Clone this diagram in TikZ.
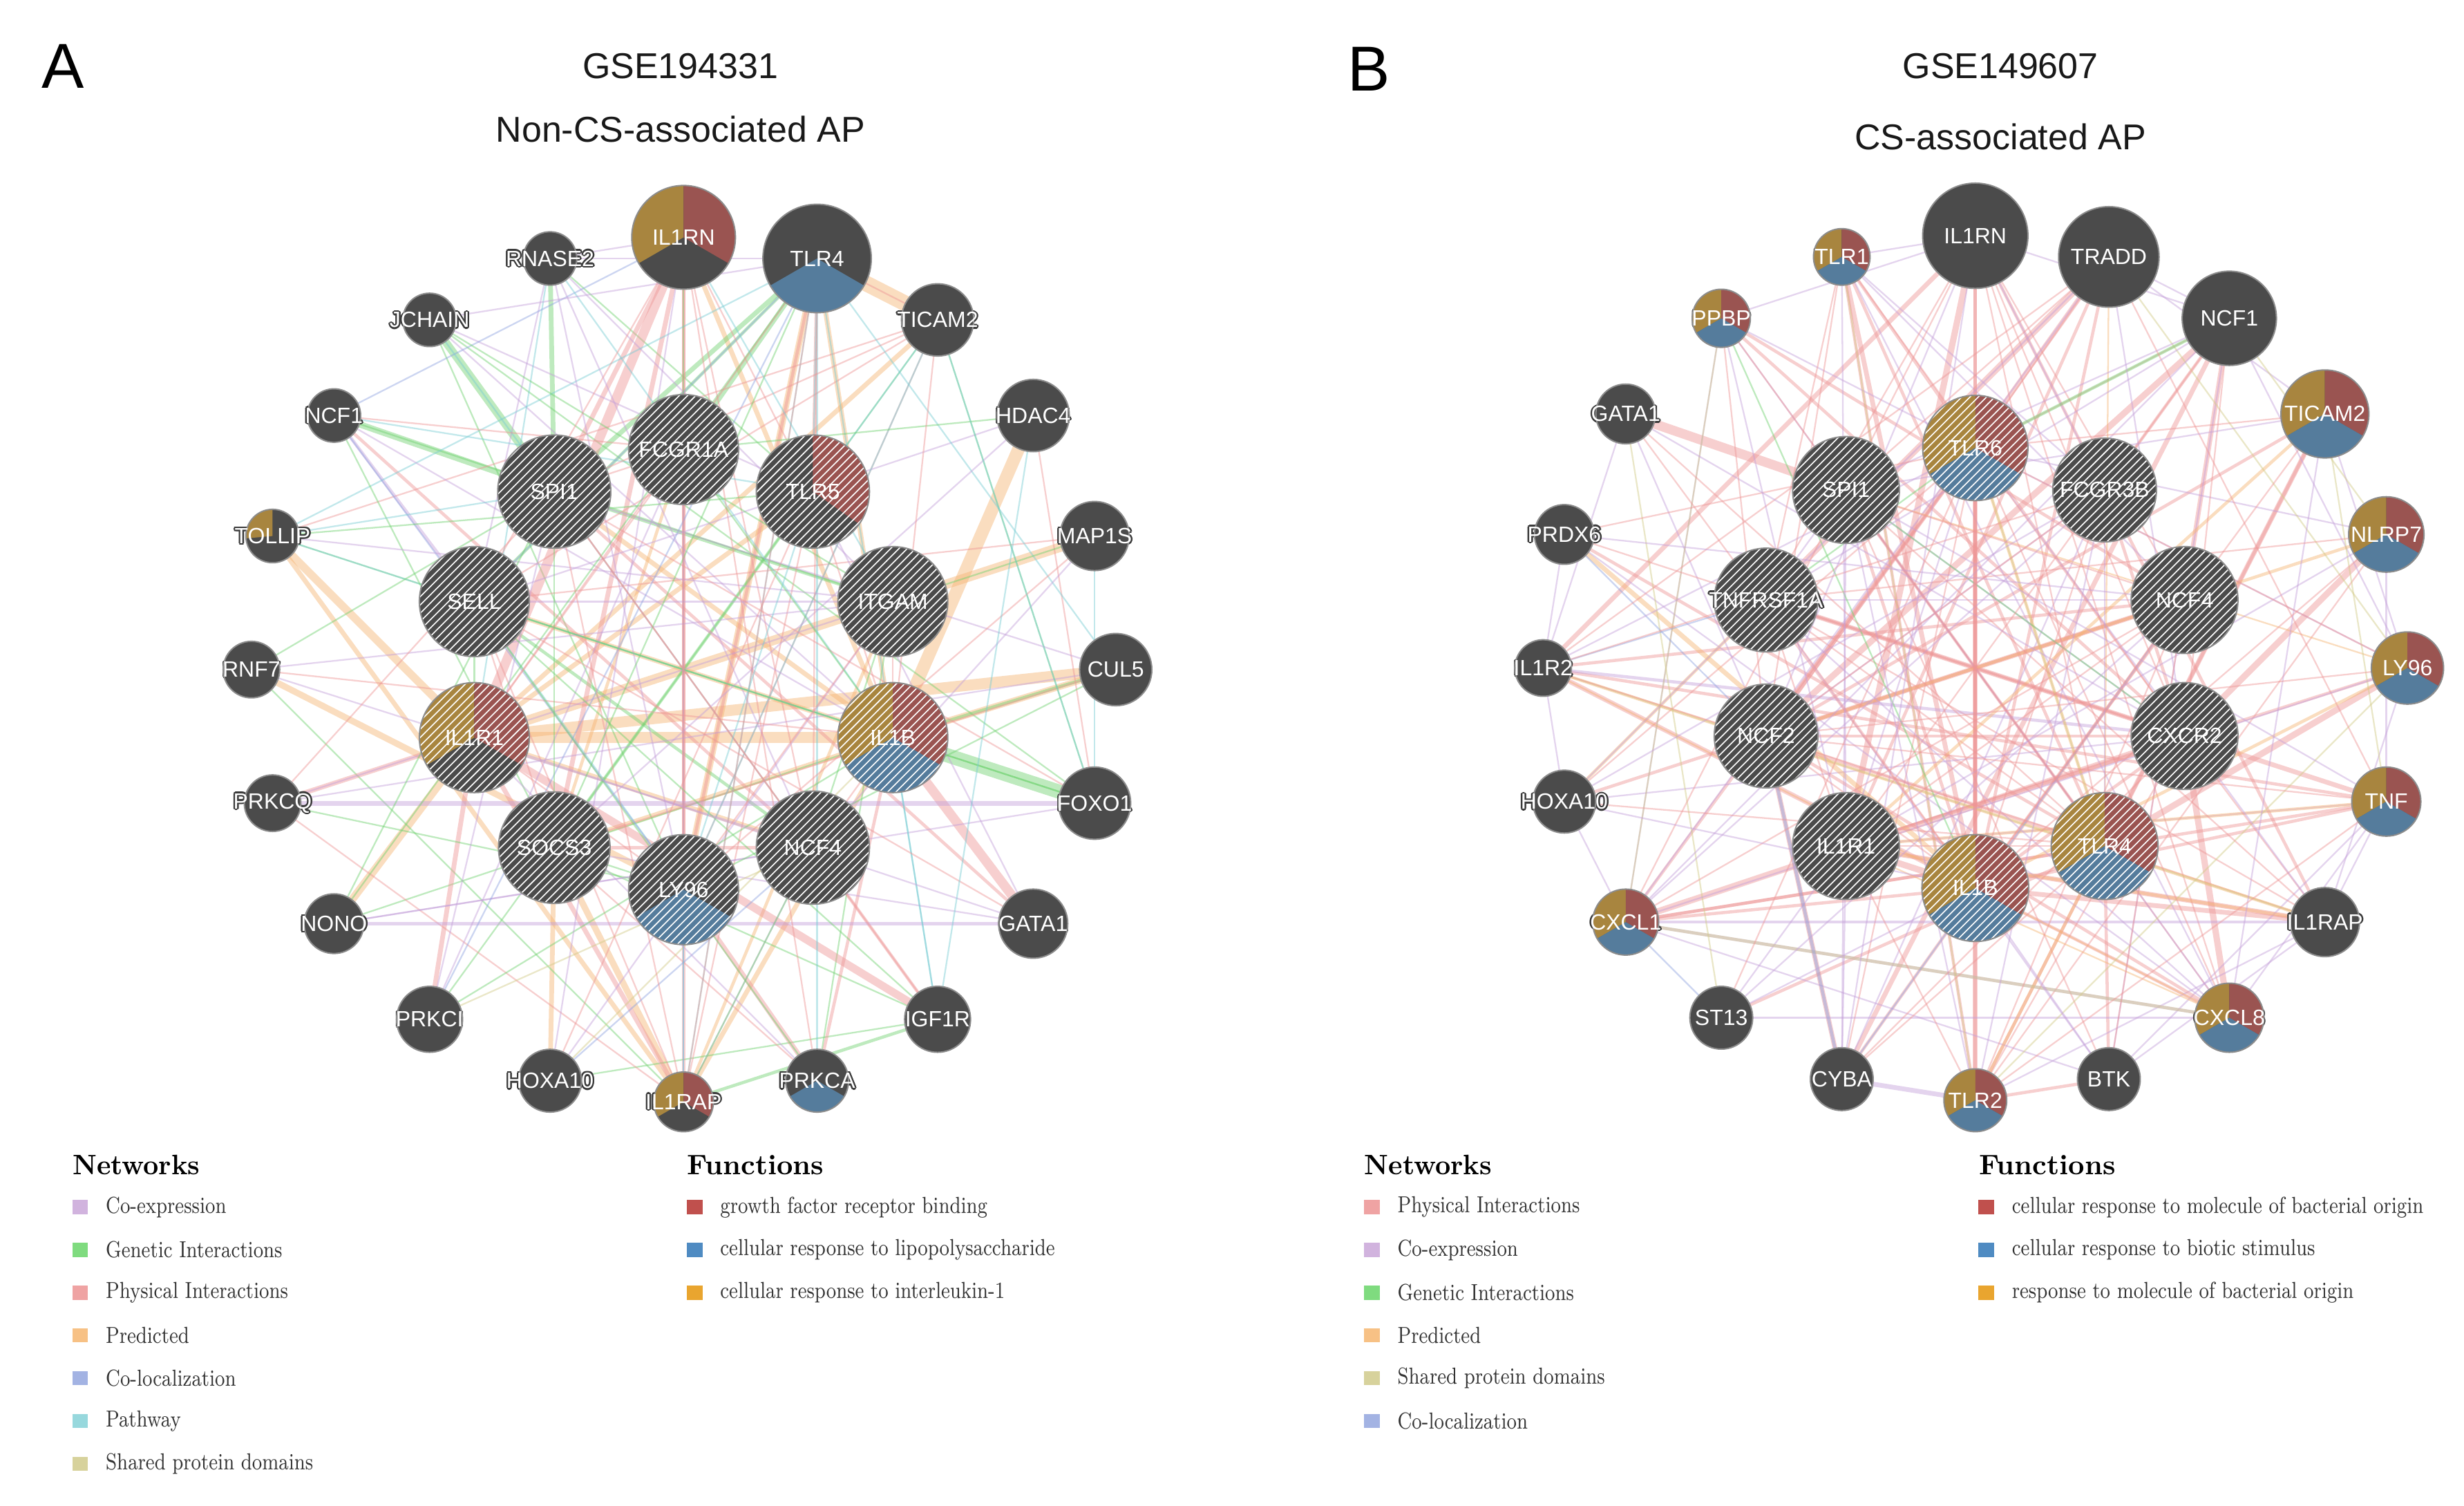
\documentclass[tikz,border=0pt]{standalone}
\usepackage{fontspec}
\newfontfamily\arialf{Liberation Sans}
\usetikzlibrary{patterns,calc}
\pgfdeclarelayer{bg}
\pgfsetlayers{bg,main}
\definecolor{ndark}{HTML}{4B4B4B}
\definecolor{nhalo}{HTML}{3A3A3A}
\definecolor{pgold}{HTML}{A8853F}
\definecolor{pred}{HTML}{9A5451}
\definecolor{pblue}{HTML}{557C9C}
\definecolor{eco}{HTML}{C4A0DA}
\definecolor{ege}{HTML}{6FD26F}
\definecolor{eph}{HTML}{EE9696}
\definecolor{epr}{HTML}{F6B472}
\definecolor{ecl}{HTML}{8EA2E0}
\definecolor{epa}{HTML}{78CCD4}
\definecolor{esh}{HTML}{D2CB86}
\definecolor{lco}{HTML}{D1B3DE}
\definecolor{lge}{HTML}{7FDB7F}
\definecolor{lph}{HTML}{EFA3A3}
\definecolor{lpr}{HTML}{F7C185}
\definecolor{lcl}{HTML}{A3B3E3}
\definecolor{lpa}{HTML}{97D8DD}
\definecolor{lsh}{HTML}{D7D29C}
\definecolor{fred}{HTML}{C0504D}
\definecolor{fblue}{HTML}{4F8BC2}
\definecolor{fgold}{HTML}{E9A52F}
\tikzset{
  gn/.style={circle, inner sep=0pt, outer sep=0pt, fill=ndark, draw=black!45, line width=0.5pt,
    minimum size=#1*0.04cm, font=\arialf\fontsize{8}{9}\selectfont, text=white},
  glh/.style={inner sep=0pt, font=\arialf\fontsize{8}{9}\selectfont, text=nhalo},
  edge/.style={draw opacity=0.45, line cap=round},
  ttl/.style={font=\arialf\fontsize{13}{15}\selectfont, text=black!90},
  panel/.style={font=\arialf\fontsize{23}{26}\selectfont},
  lhead/.style={font=\bfseries\fontsize{10.2}{12}\selectfont, anchor=west, inner sep=0pt},
  ltxt/.style={font=\fontsize{8.4}{10}\selectfont, anchor=west, inner sep=0pt, text=black!80},
  lsq/.style={minimum width=0.2cm, minimum height=0.18cm, inner sep=0pt},
}
\newcommand{\curr}{20}
\newcommand{\pw}[3]{\fill[#1] (path picture bounding box.center) -- ++(#2:\curr*0.02cm) arc[start angle=#2, end angle=#3, radius=\curr*0.02cm] -- cycle;}
\newcommand{\hatch}{\fill[pattern=north east lines, pattern color=white, fill opacity=0.07] (path picture bounding box.south west) rectangle (path picture bounding box.north east);}
\newcommand{\gene}[6]{%
  \renewcommand{\curr}{#4}%
  \foreach \dx/\dy in {0.6/0,-0.6/0,0/0.6,0/-0.6,0.42/0.42,-0.42/0.42,0.42/-0.42,-0.42/-0.42}
    {\node[glh, xshift=\dx pt, yshift=\dy pt] at (#2:#3) {\makebox[0pt]{#5}};}
  \node[gn=#4, path picture={#6}] (#1) at (#2:#3) {\makebox[0pt]{#5}};}
\begin{document}
\begin{tikzpicture}[x=0.02cm, y=0.02cm]
\useasboundingbox (0,0) rectangle (1568,958);
\begin{pgfonlayer}{bg}
\fill[white] (0,0) rectangle (1568,958);
\end{pgfonlayer}

% ---------------- Panel A ----------------
\node[panel] (pA) at (40,916) {A};
\node[ttl] (tA1) at (433,916) {GSE194331};
\node[ttl] (tA2) at (433,876) {Non-CS-associated AP};

\begin{scope}[shift={(435,532)}]
\gene{aIL1RN}{90}{275}{33}{IL1RN}{\pw{pgold}{90}{210}\pw{pred}{-30}{90}}
\gene{aTLR4}{72}{275}{34.5}{TLR4}{\pw{pblue}{210}{330}}
\gene{aTICAM2}{54}{275}{23}{TICAM2}{}
\gene{aHDAC4}{36}{275}{23}{HDAC4}{}
\gene{aMAP1S}{18}{275}{22}{MAP1S}{}
\gene{aCUL5}{0}{275}{23}{CUL5}{}
\gene{aFOXO1}{-18}{275}{23}{FOXO1}{}
\gene{aGATA1}{-36}{275}{22}{GATA1}{}
\gene{aIGF1R}{-54}{275}{21}{IGF1R}{}
\gene{aPRKCA}{-72}{275}{20}{PRKCA}{\pw{pblue}{210}{330}}
\gene{aIL1RAP}{-90}{275}{19}{IL1RAP}{\pw{pgold}{90}{210}\pw{pred}{-30}{90}}
\gene{aHOXA10}{-108}{275}{20}{HOXA10}{}
\gene{aPRKCI}{-126}{275}{21}{PRKCI}{}
\gene{aNONO}{-144}{275}{19}{NONO}{}
\gene{aPRKCQ}{-162}{275}{18}{PRKCQ}{}
\gene{aRNF7}{180}{275}{18}{RNF7}{}
\gene{aTOLLIP}{162}{275}{17}{TOLLIP}{\pw{pgold}{90}{185}}
\gene{aNCF1}{144}{275}{17}{NCF1}{}
\gene{aJCHAIN}{126}{275}{17}{JCHAIN}{}
\gene{aRNASE2}{108}{275}{17}{RNASE2}{}
\gene{aFCGR1A}{90}{140}{35}{FCGR1A}{\hatch}
\gene{aTLR5}{54}{140}{36}{TLR5}{\pw{pred}{-35}{90}\hatch}
\gene{aITGAM}{18}{140}{35}{ITGAM}{\hatch}
\gene{aIL1B}{-18}{140}{35}{IL1B}{\pw{pgold}{90}{210}\pw{pred}{-30}{90}\pw{pblue}{210}{330}\hatch}
\gene{aNCF4}{-54}{140}{36}{NCF4}{\hatch}
\gene{aLY96}{-90}{140}{35}{LY96}{\pw{pblue}{210}{330}\hatch}
\gene{aSOCS3}{-126}{140}{35.5}{SOCS3}{\hatch}
\gene{aIL1R1}{-162}{140}{35}{IL1R1}{\pw{pgold}{90}{210}\pw{pred}{-30}{90}\hatch}
\gene{aSELL}{162}{140}{35}{SELL}{\hatch}
\gene{aSPI1}{126}{140}{36}{SPI1}{\hatch}
\end{scope}

\begin{pgfonlayer}{bg}
\foreach \u/\v/\s/\w in {
 aTLR4/aTICAM2/pr/10, aHDAC4/aIL1B/pr/8, aMAP1S/aIL1R1/pr/6, aCUL5/aIL1R1/pr/7,
 aIL1R1/aIL1B/pr/7, aTOLLIP/aIL1R1/pr/5, aNONO/aIL1R1/pr/5, aRNF7/aLY96/pr/4,
 aTOLLIP/aIL1RAP/pr/3, aSOCS3/aIL1RAP/pr/4, aHOXA10/aSOCS3/pr/3, aTLR4/aLY96/pr/4,
 aTLR4/aIL1B/pr/3, aIL1RN/aIL1B/pr/3, aTICAM2/aIL1R1/pr/3, aCUL5/aIL1B/pr/4,
 aSPI1/aIL1B/pr/3, aSELL/aIL1B/pr/3, aIL1B/aSOCS3/pr/3, aIL1R1/aNCF4/pr/3,
 aIL1RAP/aIL1B/pr/3, aIL1RAP/aITGAM/pr/2, aTLR5/aIL1R1/pr/3, aFCGR1A/aSOCS3/pr/2,
 aIL1B/aFOXO1/ge/9, aJCHAIN/aSPI1/ge/5, aNCF1/aSPI1/ge/4, aTLR4/aSPI1/ge/3,
 aRNASE2/aSPI1/ge/3, aFCGR1A/aTLR4/ge/3, aIL1B/aCUL5/ge/2, aNCF1/aITGAM/ge/1,
 aTOLLIP/aFOXO1/ge/1, aPRKCI/aTICAM2/ge/1, aNONO/aIL1B/ge/1, aHOXA10/aIGF1R/ge/1,
 aIL1RAP/aIGF1R/ge/2, aRNF7/aIL1RAP/ge/1, aJCHAIN/aFOXO1/ge/1, aPRKCA/aITGAM/ge/1,
 aSELL/aNCF4/ge/2, aRNASE2/aTLR5/ge/1, aTLR5/aSOCS3/ge/2, aSPI1/aITGAM/ge/2,
 aIGF1R/aSOCS3/ge/1, aTLR4/aSELL/ge/2, aJCHAIN/aLY96/ge/1,
 aIL1RN/aIL1R1/ph/6, aIL1RN/aSOCS3/ph/3, aIL1RN/aSPI1/ph/3, aIL1B/aGATA1/ph/6,
 aIL1R1/aIGF1R/ph/5, aPRKCQ/aIL1R1/ph/3, aPRKCI/aIL1R1/ph/3, aIL1RN/aIL1RAP/ph/2,
 aIL1RAP/aIL1R1/ph/3, aTLR4/aLY96/ph/2, aTLR4/aTLR5/ph/2, aTLR4/aTICAM2/ph/1,
 aTICAM2/aSELL/ph/1, aTICAM2/aTOLLIP/ph/1, aIL1B/aPRKCA/ph/2, aLY96/aPRKCA/ph/3,
 aSOCS3/aNCF4/ph/2, aHDAC4/aFOXO1/ph/1, aIGF1R/aNCF4/ph/2, aSPI1/aGATA1/ph/2,
 aCUL5/aSOCS3/ph/1, aIL1RN/aTLR5/ph/1, aMAP1S/aSELL/ph/1, aNCF1/aNCF4/ph/2,
 aFCGR1A/aSPI1/ph/1, aPRKCA/aSOCS3/ph/1, aIL1RN/aNCF4/ph/1, aPRKCQ/aIL1RAP/ph/1,
 aSELL/aIL1RAP/ph/1, aTLR5/aIL1RAP/ph/1, aIL1RN/aLY96/ph/2, aTICAM2/aLY96/ph/1,
 aRNASE2/aSELL/co/1, aRNASE2/aTLR4/co/1, aRNASE2/aITGAM/co/1, aNCF1/aSELL/co/2,
 aJCHAIN/aTLR5/co/1, aPRKCQ/aFOXO1/co/3, aNONO/aGATA1/co/2, aPRKCQ/aCUL5/co/1,
 aRNF7/aITGAM/co/1, aSELL/aITGAM/co/1, aSOCS3/aGATA1/co/1, aHDAC4/aSELL/co/1,
 aHOXA10/aITGAM/co/1, aPRKCI/aFCGR1A/co/1, aIL1RAP/aNCF4/co/1, aNONO/aFOXO1/co/1,
 aRNASE2/aIL1RN/co/1, aJCHAIN/aIL1B/co/1,
 aTOLLIP/aTLR4/pa/1, aTICAM2/aLY96/pa/1, aRNASE2/aIL1R1/pa/1, aNCF1/aTLR5/pa/1,
 aPRKCA/aTLR4/pa/1, aIL1RAP/aTLR4/pa/1, aMAP1S/aFOXO1/pa/1, aSELL/aLY96/pa/1,
 aTLR4/aTLR5/pa/1, aIL1B/aIGF1R/pa/1, aTICAM2/aTLR5/pa/1, aTOLLIP/aIL1B/pa/1,
 aNCF1/aLY96/cl/1, aHOXA10/aNCF4/cl/1, aSELL/aTLR4/cl/1, aIL1RAP/aFCGR1A/cl/1,
 aNCF1/aIL1RN/cl/1, aPRKCI/aNCF4/sh/1, aHOXA10/aIL1B/sh/1,
 aRNASE2/aNCF4/co/1, aRNASE2/aIL1B/pa/1, aRNASE2/aLY96/co/1, aJCHAIN/aITGAM/ge/1,
 aJCHAIN/aTLR4/co/1, aJCHAIN/aNCF4/pa/1, aNCF1/aIL1B/co/1, aNCF1/aFCGR1A/ph/1,
 aNCF1/aSOCS3/ge/1, aTOLLIP/aSPI1/pa/1, aTOLLIP/aITGAM/co/1, aTOLLIP/aTLR5/ge/1,
 aRNF7/aIL1B/ph/1, aRNF7/aSPI1/ge/1, aRNF7/aNCF4/co/1, aPRKCQ/aITGAM/co/1,
 aPRKCQ/aSPI1/ph/1, aPRKCQ/aLY96/ge/1, aNONO/aSPI1/ge/1, aNONO/aNCF4/co/1,
 aNONO/aTLR4/ge/1, aPRKCI/aIL1B/ge/1, aPRKCI/aSPI1/co/1, aPRKCI/aTLR4/cl/1,
 aHOXA10/aTLR5/ph/1, aHOXA10/aIL1RN/co/1, aIL1RAP/aSPI1/ph/1, aIL1RAP/aTLR4/ph/1,
 aIL1RAP/aLY96/pa/1, aIL1RAP/aNCF4/ge/1, aPRKCA/aIL1RN/ph/1, aPRKCA/aSELL/ge/1,
 aPRKCA/aIL1R1/co/1, aIGF1R/aSPI1/ph/1, aIGF1R/aTLR4/pa/1, aIGF1R/aSELL/ge/1,
 aGATA1/aSELL/ph/1, aGATA1/aTLR5/co/1, aGATA1/aIL1R1/co/1, aFOXO1/aSELL/ge/1,
 aFOXO1/aSPI1/ph/1, aFOXO1/aTICAM2/ge/1, aCUL5/aSPI1/co/1, aCUL5/aLY96/ge/1,
 aCUL5/aTLR4/pa/1, aMAP1S/aLY96/ph/1, aMAP1S/aITGAM/ge/1, aMAP1S/aNCF4/co/1,
 aHDAC4/aSOCS3/co/1, aHDAC4/aFCGR1A/ge/1, aHDAC4/aIGF1R/pa/1, aTICAM2/aSPI1/ph/1,
 aTICAM2/aIL1B/ph/1, aTICAM2/aFOXO1/pa/1, aTLR4/aIL1R1/ph/1, aTLR4/aSOCS3/ge/1,
 aTLR4/aNCF4/ph/1, aIL1RN/aSELL/ph/1, aIL1RN/aITGAM/pa/1, aIL1RN/aFCGR1A/ge/1,
 aFCGR1A/aIL1R1/ph/1, aFCGR1A/aIL1B/ge/1, aFCGR1A/aLY96/ph/1, aSPI1/aSOCS3/ge/1,
 aSPI1/aNCF4/ph/1, aSELL/aSOCS3/ph/1, aSELL/aIL1R1/ge/1, aITGAM/aIL1B/ph/1,
 aITGAM/aNCF4/ge/1, aITGAM/aLY96/ph/1, aTLR5/aLY96/pa/1, aTLR5/aIL1B/ph/1,
 aLY96/aIL1R1/ph/1, aLY96/aSOCS3/ge/1, aNCF4/aIL1B/ph/1}
  {\draw[edge, draw=e\s, line width=\w*0.57pt] (\u) -- (\v);}
\end{pgfonlayer}

% legend A
\node[lhead] (aNet) at (46,217) {\scalebox{0.95}[1]{Networks}};
\foreach \i/\c/\t in {0/lco/Co-expression, 1/lge/Genetic Interactions, 2/lph/Physical Interactions,
  3/lpr/Predicted, 4/lcl/Co-localization, 5/lpa/Pathway, 6/lsh/Shared protein domains}{
  \node[lsq, fill=\c] (aNs\i) at (51,190-27.2*\i) {};
  \node[ltxt] (aNt\i) at (67,190-27.2*\i) {\scalebox{0.81}[1]{\t}};}
\node[lhead] (aFun) at (437,217) {Functions};
\foreach \i/\c/\t in {0/fred/growth factor receptor binding, 1/fblue/cellular response to lipopolysaccharide,
  2/fgold/cellular response to interleukin-1}{
  \node[lsq, fill=\c] (aFs\i) at (442,190-27.2*\i) {};
  \node[ltxt] (aFt\i) at (458,190-27.2*\i) {\scalebox{0.81}[1]{\t}};}

% ---------------- Panel B ----------------
\node[panel] (pB) at (871,914) {B};
\node[ttl] (tB1) at (1273,916) {GSE149607};
\node[ttl] (tB2) at (1273,871) {CS-associated AP};

\begin{scope}[shift={(1257,533)}]
\gene{bIL1RN}{90}{275}{33.5}{IL1RN}{}
\gene{bTRADD}{72}{275}{32}{TRADD}{}
\gene{bNCF1}{54}{275}{30}{NCF1}{}
\gene{bTICAM2}{36}{275}{28}{TICAM2}{\pw{pgold}{90}{210}\pw{pred}{-30}{90}\pw{pblue}{210}{330}}
\gene{bNLRP7}{18}{275}{24}{NLRP7}{\pw{pgold}{90}{210}\pw{pred}{-30}{90}\pw{pblue}{210}{330}}
\gene{bLY96}{0}{275}{23}{LY96}{\pw{pgold}{90}{210}\pw{pred}{-30}{90}\pw{pblue}{210}{330}}
\gene{bTNF}{-18}{275}{22}{TNF}{\pw{pgold}{90}{210}\pw{pred}{-30}{90}\pw{pblue}{210}{330}}
\gene{bIL1RAP}{-36}{275}{22}{IL1RAP}{}
\gene{bCXCL8}{-54}{275}{22}{CXCL8}{\pw{pgold}{90}{210}\pw{pred}{-30}{90}\pw{pblue}{210}{330}}
\gene{bBTK}{-72}{275}{20}{BTK}{}
\gene{bTLR2}{-90}{275}{20}{TLR2}{\pw{pgold}{90}{210}\pw{pred}{-30}{90}\pw{pblue}{210}{330}}
\gene{bCYBA}{-108}{275}{20}{CYBA}{}
\gene{bST13}{-126}{275}{20}{ST13}{}
\gene{bCXCL1}{-144}{275}{21}{CXCL1}{\pw{pgold}{90}{210}\pw{pred}{-30}{90}\pw{pblue}{210}{330}}
\gene{bHOXA10}{-162}{275}{20}{HOXA10}{}
\gene{bIL1R2}{180}{275}{18}{IL1R2}{}
\gene{bPRDX6}{162}{275}{19}{PRDX6}{}
\gene{bGATA1}{144}{275}{19}{GATA1}{}
\gene{bPPBP}{126}{275}{18.5}{PPBP}{\pw{pgold}{90}{210}\pw{pred}{-30}{90}\pw{pblue}{210}{330}}
\gene{bTLR1}{108}{275}{18}{TLR1}{\pw{pgold}{90}{210}\pw{pred}{-30}{90}\pw{pblue}{210}{330}}
\gene{bTLR6}{90}{140}{33.5}{TLR6}{\pw{pgold}{90}{210}\pw{pred}{-30}{90}\pw{pblue}{210}{330}\hatch}
\gene{bFCGR3B}{54}{140}{33}{FCGR3B}{\hatch}
\gene{bNCF4}{18}{140}{34}{NCF4}{\hatch}
\gene{bCXCR2}{-18}{140}{34}{CXCR2}{\hatch}
\gene{bTLR4}{-54}{140}{34}{TLR4}{\pw{pgold}{90}{210}\pw{pred}{-30}{90}\pw{pblue}{210}{330}\hatch}
\gene{bIL1B}{-90}{140}{34}{IL1B}{\pw{pgold}{90}{210}\pw{pred}{-30}{90}\pw{pblue}{210}{330}\hatch}
\gene{bIL1R1}{-126}{140}{34}{IL1R1}{\hatch}
\gene{bNCF2}{-162}{140}{33}{NCF2}{\hatch}
\gene{bTNFRSF1A}{162}{140}{33}{TNFRSF1A}{\hatch}
\gene{bSPI1}{126}{140}{34}{SPI1}{\hatch}
\end{scope}

\begin{pgfonlayer}{bg}
\foreach \u/\v/\s/\w in {
 bGATA1/bSPI1/ph/6, bTLR1/bIL1B/ph/3, bIL1RN/bIL1R1/ph/4, bIL1RN/bIL1R2/ph/3,
 bTRADD/bTNFRSF1A/ph/4, bTRADD/bNCF2/ph/3, bNCF1/bNCF2/ph/4, bNCF1/bNCF4/ph/3,
 bNCF1/bCYBA/ph/3, bNCF4/bNCF2/ph/3, bNCF2/bCYBA/ph/3, bTICAM2/bTLR4/ph/3,
 bTICAM2/bTLR2/ph/2, bNLRP7/bCXCR2/ph/4, bLY96/bTLR4/ph/4, bTNF/bTNFRSF1A/ph/3,
 bTNF/bIL1B/ph/2, bCXCL8/bCXCR2/ph/4, bCXCL1/bCXCR2/ph/4, bCXCL1/bIL1B/ph/2,
 bIL1B/bIL1R1/ph/4, bIL1B/bIL1RAP/ph/3, bIL1R1/bIL1RAP/ph/3, bIL1RN/bIL1RAP/ph/2,
 bTLR2/bTLR1/ph/2, bTLR2/bTLR6/ph/3, bTLR6/bTLR1/ph/2, bTLR2/bBTK/ph/2,
 bBTK/bTLR4/ph/2, bCXCL8/bIL1B/ph/2, bPRDX6/bTLR4/ph/2, bIL1R2/bIL1B/ph/3,
 bHOXA10/bNCF4/ph/2, bSPI1/bTLR4/ph/2, bSPI1/bIL1B/ph/2, bFCGR3B/bCXCR2/ph/2,
 bFCGR3B/bNCF1/ph/2, bST13/bTLR4/ph/2, bPPBP/bCXCR2/ph/2, bPPBP/bNCF4/ph/2,
 bIL1R2/bNCF4/ph/2, bTLR1/bCXCR2/ph/1, bIL1RN/bCXCL8/ph/1, bTRADD/bIL1B/ph/2,
 bNCF1/bTLR6/ph/1, bCYBA/bNCF4/ph/2, bTNFRSF1A/bCXCR2/ph/2, bNCF2/bCXCR2/ph/2,
 bTLR6/bNCF2/ph/2, bTLR4/bTNFRSF1A/ph/1, bIL1RAP/bNCF2/ph/1, bTLR1/bTLR4/ph/2,
 bIL1RN/bTLR2/ph/2, bTRADD/bIL1R1/ph/2, bTLR6/bCXCL1/ph/2, bCXCL1/bTLR4/ph/2,
 bTICAM2/bNCF2/ph/2, bNLRP7/bTLR2/ph/1, bLY96/bIL1R1/ph/2, bTNF/bCXCL1/ph/2,
 bIL1RAP/bTNFRSF1A/ph/1, bCXCL8/bSPI1/ph/1, bBTK/bSPI1/ph/1, bTLR2/bCXCR2/ph/1,
 bCYBA/bTLR6/ph/1, bIL1R2/bTNF/ph/2, bHOXA10/bTLR6/ph/1, bIL1RN/bNCF4/ph/1,
 bTLR1/bCXCL8/co/1, bTLR1/bNCF4/co/1, bTLR1/bFCGR3B/co/1, bPPBP/bCXCL1/co/1,
 bPPBP/bCXCL8/co/1, bPPBP/bTLR6/co/1, bGATA1/bIL1R2/co/1, bIL1R2/bHOXA10/co/1,
 bPRDX6/bIL1R2/co/1, bIL1R2/bCXCR2/co/2, bCXCL1/bIL1RAP/co/2, bCXCL1/bCXCL8/co/2,
 bCXCL1/bBTK/co/1, bST13/bCXCL8/co/1, bCYBA/bTLR2/co/3, bCYBA/bFCGR3B/co/1,
 bBTK/bNCF1/co/1, bTLR2/bIL1RAP/co/1, bIL1RN/bNCF1/co/1, bIL1RN/bFCGR3B/co/1,
 bTRADD/bTICAM2/co/1, bNCF1/bLY96/co/1, bTICAM2/bLY96/co/1, bNLRP7/bTNF/co/1,
 bLY96/bIL1RAP/co/1, bTNF/bCXCL8/co/1, bSPI1/bCXCR2/co/1, bTNFRSF1A/bNCF4/co/1,
 bNCF2/bFCGR3B/co/1, bHOXA10/bCXCL1/co/1, bSPI1/bCYBA/co/1, bTLR6/bLY96/co/1,
 bIL1R1/bTNF/co/1, bGATA1/bNCF2/co/1, bPRDX6/bCXCL8/co/1, bTRADD/bCXCL1/co/1,
 bTLR1/bIL1RN/co/1, bPPBP/bIL1RN/co/1, bTRADD/bNCF1/co/1, bNLRP7/bTLR6/co/1,
 bTNF/bBTK/co/1, bIL1RAP/bBTK/co/1, bST13/bIL1R1/co/1, bHOXA10/bCXCR2/co/1,
 bPRDX6/bIL1B/pr/3, bIL1R2/bIL1RAP/pr/2, bHOXA10/bTNFRSF1A/pr/2, bTICAM2/bIL1R1/pr/2,
 bNLRP7/bNCF2/pr/2, bLY96/bIL1B/pr/2, bTNF/bIL1R1/pr/2, bTLR2/bTLR4/pr/2,
 bTLR6/bTLR4/pr/2, bIL1RAP/bIL1R1/pr/2, bCXCL8/bIL1R1/pr/1, bTRADD/bTLR4/pr/1,
 bIL1R2/bCXCL8/pr/1, bLY96/bSPI1/pr/1,
 bTLR1/bTLR2/sh/1, bCXCL1/bCXCL8/sh/2, bPPBP/bCXCL1/sh/1, bTLR6/bTLR4/sh/1,
 bIL1R2/bIL1RAP/sh/1, bGATA1/bST13/sh/1, bNCF1/bNLRP7/sh/1, bTICAM2/bTNF/sh/1,
 bLY96/bTLR2/sh/1, bTRADD/bLY96/sh/1,
 bPPBP/bIL1B/ge/1, bNCF1/bTLR6/ge/2, bSPI1/bCXCR2/ge/1, bTLR6/bTNFRSF1A/ge/1,
 bCXCL1/bST13/cl/1, bIL1R2/bTNFRSF1A/cl/1, bCYBA/bNCF2/cl/2, bNCF4/bCYBA/cl/1,
 bPRDX6/bNCF2/cl/1,
 bIL1RN/bSPI1/ph/1, bIL1RN/bTNFRSF1A/ph/1, bIL1RN/bNCF2/co/1, bIL1RN/bCXCR2/ph/1,
 bIL1RN/bTLR4/ph/1, bIL1RN/bIL1B/ph/2, bIL1RN/bCYBA/co/1, bTRADD/bCXCR2/co/1,
 bTRADD/bSPI1/ph/1, bTRADD/bTLR6/ph/1, bTRADD/bIL1R2/ph/1, bTRADD/bHOXA10/co/1,
 bTRADD/bTNF/ph/1, bNCF1/bSPI1/co/1, bNCF1/bIL1R1/ph/1, bNCF1/bCXCR2/ph/1,
 bNCF1/bTNFRSF1A/co/1, bNCF1/bCXCL1/co/1, bTICAM2/bIL1B/ph/1, bTICAM2/bSPI1/co/1,
 bTICAM2/bTLR6/ph/1, bTICAM2/bCXCL8/co/1, bNLRP7/bIL1B/ph/1, bNLRP7/bIL1R1/co/1,
 bNLRP7/bTNFRSF1A/ph/1, bLY96/bNCF2/ph/1, bLY96/bTLR6/ph/1, bLY96/bCXCL1/co/1,
 bTNF/bNCF2/ph/1, bTNF/bSPI1/co/1, bTNF/bTLR2/ph/1, bTNF/bIL1RAP/co/1,
 bIL1RAP/bCXCR2/ph/1, bIL1RAP/bTLR6/co/1, bIL1RAP/bSPI1/ph/1, bCXCL8/bNCF2/ph/2,
 bCXCL8/bTNFRSF1A/co/1, bCXCL8/bTLR6/ph/1, bBTK/bNCF4/ph/1, bBTK/bIL1B/co/1,
 bBTK/bTNFRSF1A/co/1, bTLR2/bIL1R1/ph/1, bTLR2/bSPI1/co/1, bTLR2/bNCF4/ph/1,
 bTLR2/bFCGR3B/co/1, bCYBA/bCXCR2/ph/1, bCYBA/bIL1R1/co/1, bCYBA/bTLR4/ph/1,
 bST13/bNCF4/co/1, bST13/bTLR6/ph/1, bST13/bIL1B/co/1, bCXCL1/bNCF4/ph/1,
 bCXCL1/bFCGR3B/co/1, bCXCL1/bSPI1/ph/1, bHOXA10/bTLR4/ph/1, bHOXA10/bIL1B/co/1,
 bHOXA10/bFCGR3B/co/1, bIL1R2/bTLR4/ph/1, bIL1R2/bTLR6/co/1, bIL1R2/bFCGR3B/ph/1,
 bPRDX6/bCXCR2/ph/1, bPRDX6/bNCF4/co/1, bPRDX6/bTLR6/ph/1, bGATA1/bTLR4/ph/1,
 bGATA1/bCXCR2/co/1, bGATA1/bIL1B/ph/1, bPPBP/bTLR4/ph/1, bPPBP/bIL1R1/co/1,
 bPPBP/bNCF2/ph/1, bTLR1/bNCF2/ph/1, bTLR1/bIL1R1/co/1, bTLR1/bTNFRSF1A/ph/1,
 bTLR6/bIL1B/ph/2, bTLR6/bCXCR2/ph/1, bTLR6/bIL1R1/co/1, bFCGR3B/bIL1B/ph/1,
 bFCGR3B/bNCF2/ph/1, bFCGR3B/bTLR4/co/1, bNCF4/bIL1R1/ph/1, bNCF4/bIL1B/ph/1,
 bCXCR2/bIL1R1/ph/1, bCXCR2/bIL1B/ph/2, bTLR4/bIL1R1/ph/1, bTLR4/bNCF2/ph/1,
 bSPI1/bNCF4/ph/1, bSPI1/bTNFRSF1A/co/1, bTNFRSF1A/bIL1B/ph/1, bNCF2/bIL1B/ph/1,
 bIL1R1/bTNFRSF1A/ph/1}
  {\draw[edge, draw=e\s, line width=\w*0.57pt] (\u) -- (\v);}
\end{pgfonlayer}

% legend B
\node[lhead] (bNet) at (868,217) {\scalebox{0.95}[1]{Networks}};
\foreach \i/\c/\t in {0/lph/Physical Interactions, 1/lco/Co-expression, 2/lge/Genetic Interactions,
  3/lpr/Predicted, 4/lsh/Shared protein domains, 5/lcl/Co-localization}{
  \node[lsq, fill=\c] (bNs\i) at (873,190-27.2*\i) {};
  \node[ltxt] (bNt\i) at (889,190-27.2*\i) {\scalebox{0.81}[1]{\t}};}
\node[lhead] (bFun) at (1259,217) {Functions};
\foreach \i/\c/\t in {0/fred/cellular response to molecule of bacterial origin, 1/fblue/cellular response to biotic stimulus,
  2/fgold/response to molecule of bacterial origin}{
  \node[lsq, fill=\c] (bFs\i) at (1264,190-27.2*\i) {};
  \node[ltxt] (bFt\i) at (1280,190-27.2*\i) {\scalebox{0.81}[1]{\t}};}
\end{tikzpicture}
\end{document}
